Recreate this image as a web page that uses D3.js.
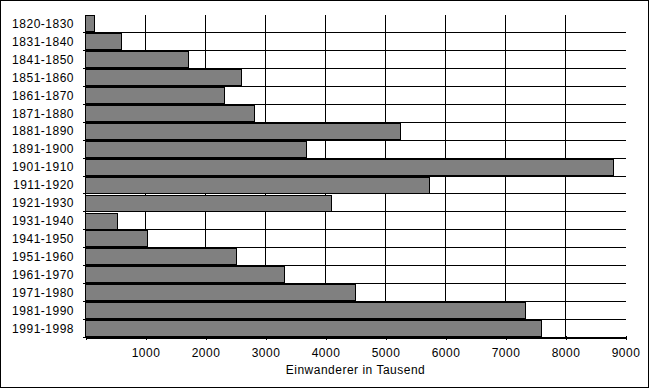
<!DOCTYPE html>
<html>
	<head>
		<meta charset="utf-8">
		<title>Einwanderer</title>
		<style>
			body { margin: 0; background: #fff; }
			text { font-family: "Liberation Sans", Arial, sans-serif; font-size: 12px; letter-spacing: 0.5px; fill: #000; }
		</style>
	</head>
	<body>
		<div id="chart"></div>
		<script src="https://d3js.org/d3.v7.min.js"></script>
		<script>
			// data (Einwanderer in Tausend)
			const periods = ['1820-1830', '1831-1840', '1841-1850', '1851-1860', '1861-1870', '1871-1880',
				'1881-1890', '1891-1900', '1901-1910', '1911-1920', '1921-1930', '1931-1940',
				'1941-1950', '1951-1960', '1961-1970', '1971-1980', '1981-1990', '1991-1998'];
			const immigrants = [152, 599, 1713, 2598, 2315, 2812, 5247, 3688, 8795, 5736, 4107, 528,
				1035, 2516, 3322, 4493, 7338, 7605];
			const xTicks = [0, 1000, 2000, 3000, 4000, 5000, 6000, 7000, 8000, 9000];
			const xTitle = 'Einwanderer in Tausend';

			const W = 650, H = 389;
			const plot = {left: 85.5, top: 14.5, right: 625.5, bottom: 337.5};

			const svg = d3.select('#chart').append('svg')
				.attr('width', W).attr('height', H)
				.attr('shape-rendering', 'crispEdges');

			// outer frame
			svg.append('rect')
				.attr('x', 0.5).attr('y', 0.5).attr('width', 648).attr('height', 387)
				.attr('fill', '#fff').attr('stroke', '#000');

			const x = d3.scaleLinear().domain([0, 9000]).range([plot.left, plot.right]);
			const y = d3.scaleBand().domain(periods).range([plot.top, plot.bottom])
				.paddingInner(0.13).paddingOuter(0.065);

			const crisp = v => Math.floor(v) + 0.5;
			const rowBottom = d => y(d) + y.bandwidth() + y.step() * y.paddingInner() / 2;

			// vertical gridlines
			svg.append('g').selectAll('line').data(xTicks.filter(t => t > 0 && t < 9000)).enter()
				.append('line')
				.attr('x1', d => crisp(x(d))).attr('x2', d => crisp(x(d)))
				.attr('y1', plot.top).attr('y2', plot.bottom)
				.attr('stroke', '#000');

			// horizontal lines between categories (with small ticks left of the axis)
			svg.append('g').selectAll('line').data(periods).enter()
				.append('line')
				.attr('x1', plot.left - 2.5).attr('x2', plot.right)
				.attr('y1', d => crisp(rowBottom(d))).attr('y2', d => crisp(rowBottom(d)))
				.attr('stroke', '#000');

			// bars
			svg.append('g').selectAll('rect').data(periods).enter()
				.append('rect')
				.attr('x', x(0))
				.attr('y', d => crisp(y(d)))
				.attr('width', (d, i) => x(immigrants[i]) - x(0))
				.attr('height', Math.round(y.bandwidth()))
				.attr('fill', '#808080')
				.attr('stroke', '#000');

			// left axis line + category labels
			svg.append('line')
				.attr('x1', plot.left).attr('x2', plot.left)
				.attr('y1', plot.top).attr('y2', plot.bottom)
				.attr('stroke', '#000');

			const yAxis = svg.append('g')
				.attr('transform', 'translate(' + plot.left + ',0)')
				.call(d3.axisLeft(y).tickSize(0).tickPadding(11.5));
			yAxis.select('.domain').remove();
			yAxis.selectAll('text').attr('dy', '0.36em').style('font-family', null).style('font-size', null)
				.attr('font-family', null).attr('font-size', null);

			// bottom axis
			const xAxis = svg.append('g')
				.attr('transform', 'translate(0,' + plot.bottom + ')')
				.call(d3.axisBottom(x).tickValues(xTicks).tickFormat(d => d === 0 ? '' : d)
					.tickSize(2.5).tickSizeOuter(0).tickPadding(8));
			xAxis.attr('font-family', null).attr('font-size', null);
			xAxis.select('.domain').attr('stroke', '#000');
			xAxis.selectAll('.tick line').attr('stroke', '#000').attr('y1', -1.5);
			yAxis.attr('font-family', null).attr('font-size', null);

			svg.append('text')
				.attr('x', (plot.left + plot.right) / 2).attr('y', 374)
				.attr('text-anchor', 'middle')
				.text(xTitle);
		</script>
	</body>
</html>
